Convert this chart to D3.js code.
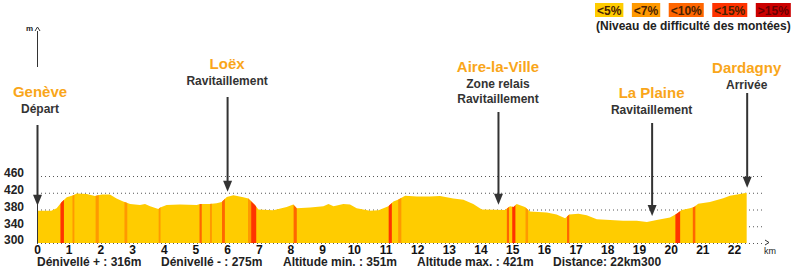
<!DOCTYPE html>
<html>
<head>
<meta charset="utf-8">
<script src="https://cdn.jsdelivr.net/npm/d3@7"></script>
<style>
  body { margin: 0; background: #fff; }
  svg { display: block; font-family: "Liberation Sans", Arial, sans-serif; font-weight: bold; }
</style>
</head>
<body>
<div id="chart"></div>
<script>
// profile (km / metres)
const kms = [0, 0.45, 0.62, 0.78, 0.94, 1.15, 1.25, 1.57, 1.83, 2.04, 2.3, 2.51, 2.72, 2.94, 3.25, 3.41, 3.57, 3.83, 3.89, 4.09, 4.51, 5.04, 5.15, 5.45, 5.67, 5.83, 5.99, 6.2, 6.51, 6.67, 6.88, 6.99, 7.46, 7.88, 8.09, 8.2, 8.62, 9.04, 9.2, 9.36, 9.67, 9.88, 10.09, 10.51, 10.78, 11.09, 11.25, 11.41, 11.62, 11.99, 12.4, 12.72, 13.14, 13.46, 13.77, 14.04, 14.77, 14.93, 15.04, 15.14, 15.4, 15.56, 16.09, 16.4, 16.67, 16.8, 17.09, 17.35, 17.67, 18.09, 18.5, 18.93, 19.25, 19.56, 19.98, 20.19, 20.35, 20.61, 20.74, 20.87, 21.24, 21.66, 21.87, 22.19, 22.4];
const alts = [377, 377, 383, 398, 409, 414, 418, 417, 412, 416, 416, 406, 399, 393, 391, 393, 388, 381, 385, 391, 392, 391, 393, 393, 395, 398, 410, 414, 409, 406, 391, 380, 378, 386, 392, 383, 385, 388, 393, 388, 393, 392, 383, 377, 378, 388, 399, 404, 413, 411, 411, 412, 406, 403, 393, 380, 379, 388, 386, 393, 386, 375, 373, 368, 359, 368, 370, 366, 357, 355, 353, 353, 350, 355, 361, 370, 379, 383, 386, 394, 398, 407, 413, 417, 420];

// steep sections : start km, end km, class index in the legend
const steepFrom = [0.74, 1.12, 1.85, 2.76, 3.84, 5.13, 5.46, 5.84, 6.66, 6.76, 8.1, 11.1, 11.4, 14.83, 15.0, 15.42, 16.73, 20.15, 20.7];
const steepTo   = [0.85, 1.18, 1.95, 2.85, 3.9, 5.2, 5.52, 5.93, 6.76, 6.92, 8.2, 11.2, 11.5, 14.9, 15.1, 15.5, 16.8, 20.3, 20.78];
const steepCls  = [3, 1, 1, 1, 1, 2, 1, 2, 1, 3, 2, 3, 1, 2, 3, 1, 2, 3, 2];

const legendLabels = ["<5%", "<7%", "<10%", "<15%", ">15%"];
const legendColors = ["#FFCC00", "#FF9900", "#FF6600", "#FF3300", "#CC0000"];

const xTicks = [0, 1, 2, 3, 4, 5, 6, 7, 8, 9, 10, 11, 12, 13, 14, 15, 16, 17, 18, 19, 20, 21, 22];
const yTicks = [300, 340, 380, 420, 460];

const markerNames = ["Genève", "Loëx", "Aire-la-Ville", "La Plaine", "Dardagny"];
const markerLines = [["Départ"], ["Ravitaillement"], ["Zone relais", "Ravitaillement"], ["Ravitaillement"], ["Arrivée"]];
const markerKm = [0, 6.0, 14.55, 19.4, 22.4];

const stats = ["Dénivellé + : 316m", "Dénivellé - : 275m", "Altitude min. : 351m", "Altitude max. : 421m", "Distance: 22km300"];

// layout
const W = 794, H = 270;
const nameBase = [97, 69, 72, 98, 73];
const arrowTop = [125, 97, 112, 123, 93];
const statX = [37, 161, 283, 417, 553];

const x = d3.scaleLinear().domain([0, 22]).range([37, 734]);
const y = d3.scaleLinear().domain([300, 460]).range([243, 176]);

const svg = d3.select("#chart").append("svg")
  .attr("width", W).attr("height", H);

const profile = kms.map((k, i) => ({ km: k, alt: alts[i] }));
const altAt = (k) => {
  const i = d3.bisector(d => d.km).left(profile, k);
  if (i <= 0) return profile[0].alt;
  if (i >= profile.length) return profile[profile.length - 1].alt;
  const a = profile[i - 1], b = profile[i];
  return a.alt + (b.alt - a.alt) * (k - a.km) / (b.km - a.km);
};

// dotted grid
svg.append("g")
  .selectAll("line")
  .data(yTicks)
  .join("line")
  .attr("x1", x(0)).attr("x2", 765)
  .attr("y1", d => y(d) + 0.5).attr("y2", d => y(d) + 0.5)
  .attr("stroke", "#555")
  .attr("stroke-dasharray", "1,3");

// profile area
const area = d3.area()
  .x(d => x(d.km))
  .y0(y(300))
  .y1(d => y(d.alt));

svg.append("clipPath").attr("id", "clip")
  .append("path").attr("d", area(profile));

svg.append("path")
  .attr("d", area(profile))
  .attr("fill", "#FFCC00");

svg.append("g")
  .attr("clip-path", "url(#clip)")
  .selectAll("rect")
  .data(steepFrom.map((f, i) => ({ from: f, to: steepTo[i], c: steepCls[i] })))
  .join("rect")
  .attr("x", d => x(d.from))
  .attr("width", d => x(d.to) - x(d.from))
  .attr("y", y(460))
  .attr("height", y(300) - y(460))
  .attr("fill", d => legendColors[d.c]);

// y axis line + head
svg.append("line").attr("x1", 37.5).attr("x2", 37.5).attr("y1", 31).attr("y2", 67)
  .attr("stroke", "#333");
svg.append("line").attr("x1", 37.5).attr("x2", 37.5).attr("y1", 125).attr("y2", 243)
  .attr("stroke", "#333");
svg.append("path").attr("d", "M35,31 L37.5,27 L40,31").attr("fill", "none").attr("stroke", "#333");
svg.append("text").attr("x", 26).attr("y", 31).attr("font-size", 8).attr("fill", "#222").text("m");

// x axis end
svg.append("path").attr("d", "M765,240 L769,242.5 L765,245").attr("fill", "none").attr("stroke", "#333");
svg.append("text").attr("x", 770).attr("y", 254).attr("font-size", 9).attr("text-anchor", "middle")
  .attr("font-weight", "normal").attr("fill", "#222").text("km");

// axes
const yAxis = svg.append("g")
  .attr("transform", `translate(${x(0)},0)`)
  .call(d3.axisLeft(y).tickValues(yTicks).tickSize(0).tickPadding(13));
yAxis.select(".domain").remove();
yAxis.selectAll("text")
  .attr("font-family", null).attr("font-size", 12).attr("fill", "#222")
  .attr("y", -3);

const xAxis = svg.append("g")
  .attr("transform", `translate(0,${y(300)})`)
  .call(d3.axisBottom(x).tickValues(xTicks).tickSize(0).tickPadding(2));
xAxis.select(".domain").remove();
xAxis.selectAll("text")
  .attr("font-family", null).attr("font-size", 12).attr("fill", "#111");

// markers
const mk = svg.append("g")
  .selectAll("g")
  .data(markerNames.map((n, i) => ({ name: n, lines: markerLines[i], km: markerKm[i], i })))
  .join("g");

mk.append("text")
  .attr("x", d => x(d.km) + (d.i === 0 ? 3 : 0))
  .attr("y", d => nameBase[d.i])
  .attr("text-anchor", "middle")
  .attr("font-size", 15)
  .attr("fill", "#F9A61A")
  .text(d => d.name);

mk.each(function (d) {
  d3.select(this).selectAll("text.sub")
    .data(d.lines)
    .join("text")
    .attr("class", "sub")
    .attr("x", x(d.km) + (d.i === 0 ? 3 : 0))
    .attr("y", (t, j) => nameBase[d.i] + 16 + j * 15)
    .attr("text-anchor", "middle")
    .attr("font-size", 12)
    .attr("fill", "#333")
    .text(t => t);
});

mk.each(function (d) {
  const g = d3.select(this);
  const px = x(d.km) + 0.5;
  const tip = y(altAt(d.km)) - 5;
  g.append("line")
    .attr("x1", px).attr("x2", px)
    .attr("y1", arrowTop[d.i]).attr("y2", tip - 8)
    .attr("stroke", "#333").attr("stroke-width", 2);
  g.append("path")
    .attr("d", `M${px - 4.5},${tip - 11} L${px + 4.5},${tip - 11} L${px},${tip} Z`)
    .attr("fill", "#333");
});

// legend
const leg = svg.append("g");
let lx = 595;
legendLabels.forEach((l, i) => {
  const t = leg.append("text")
    .attr("y", 15).attr("font-size", 12).attr("fill", i === 4 ? "#6a0000" : "#4a2200")
    .text(l);
  const w = t.node().getComputedTextLength();
  leg.insert("rect", "text")
    .attr("x", lx).attr("y", 3).attr("width", w + 4).attr("height", 14)
    .attr("fill", legendColors[i]);
  t.attr("x", lx + 2);
  lx += w + 4 + 8.5;
});
leg.append("text")
  .attr("x", 596).attr("y", 30).attr("font-size", 12).attr("fill", "#222")
  .text("(Niveau de difficulté des montées)");

// stats
svg.append("g")
  .selectAll("text")
  .data(stats)
  .join("text")
  .attr("x", (d, i) => statX[i])
  .attr("y", 266)
  .attr("font-size", 12)
  .attr("fill", "#222")
  .text(d => d);
</script>
</body>
</html>
